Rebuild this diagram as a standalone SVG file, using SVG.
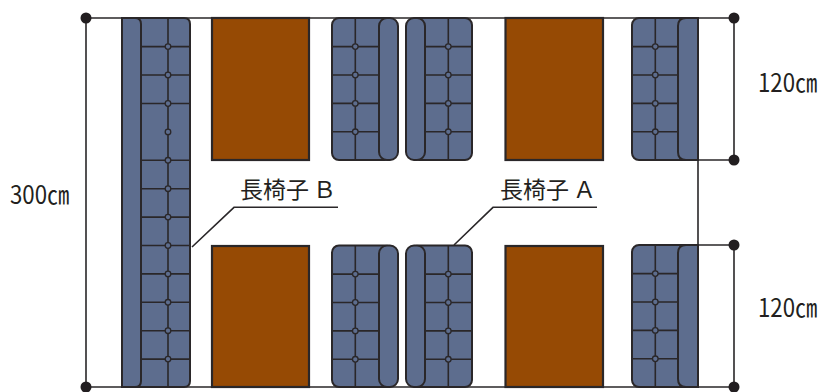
<svg xmlns="http://www.w3.org/2000/svg" width="819" height="392" viewBox="0 0 819 392">
<defs>
<style>
.s{fill:#5d6d8e;stroke:#2a2729;stroke-width:2}
.t{fill:#964a04;stroke:#2a2729;stroke-width:2.2}
.l{fill:none;stroke:#2a2729;stroke-width:1.6}
.d{fill:#221e20}
.b{fill:#5d6d8e;stroke:#2a2729;stroke-width:1.3}
text{font-family:"Noto Sans CJK JP","Liberation Sans",sans-serif;fill:#231f20}
.lb{font-size:23px;font-weight:400}
.dm{font-size:25px;font-weight:400}
</style>
<g id="quad">
<path class="l" d="M0 28.6H47M0 57H47M0 85.4H47M0 113.8H47"/>
<path class="l" d="M23.3 0V142"/>
<circle class="b" cx="23.3" cy="28.6" r="2.8"/><circle class="b" cx="23.3" cy="57" r="2.8"/><circle class="b" cx="23.3" cy="85.4" r="2.8"/><circle class="b" cx="23.3" cy="113.8" r="2.8"/>
</g>
</defs>
<g id="connectors">
<path class="l" d="M86 18H734V160H698M86 18V387H734V245H698M698 18V387"/>
<path class="l" d="M192 247L234 207.3H338M454 245L493 207.3H597"/>
</g>
<g id="table-1"><rect class="t" x="212" y="18" width="97" height="142"/></g>
<g id="table-2"><rect class="t" x="505.500" y="18" width="97.500" height="142"/></g>
<g id="table-3"><rect class="t" x="212" y="246" width="97" height="141"/></g>
<g id="table-4"><rect class="t" x="505.500" y="246" width="97.500" height="141"/></g>
<g id="bench-b">
<path class="s" d="M122 18H184Q190 18 190 24V381Q190 387 184 387H122Z" />
<path class="s" d="M122 18H135Q141 18 141 24V381Q141 387 135 387H122Z"/>
<path class="l" d="M141 46.600H190M141 75H190M141 103.500H190M141 160.300H190M141 188.700H190M141 217.100H190M141 245.500H190M141 273.900H190M141 302.300H190M141 330.700H190M141 359.100H190M168 18V387"/>
<g><circle class="b" cx="168" cy="46.600" r="2.800"/><circle class="b" cx="168" cy="75" r="2.800"/><circle class="b" cx="168" cy="103.500" r="2.800"/><circle class="b" cx="168" cy="131.900" r="2.800"/><circle class="b" cx="168" cy="160.300" r="2.800"/><circle class="b" cx="168" cy="188.700" r="2.800"/><circle class="b" cx="168" cy="217.100" r="2.800"/><circle class="b" cx="168" cy="245.500" r="2.800"/><circle class="b" cx="168" cy="273.900" r="2.800"/><circle class="b" cx="168" cy="302.300" r="2.800"/><circle class="b" cx="168" cy="330.700" r="2.800"/><circle class="b" cx="168" cy="359.100" r="2.800"/></g>
</g>
<g id="bench-a1">
<rect class="s" x="332" y="18" width="60" height="142" rx="7"/>
<use href="#quad" x="332" y="18"/>
<rect class="s" x="379" y="18" width="19" height="142" rx="8"/>
</g>
<g id="bench-a2">
<rect class="s" x="412" y="18" width="60" height="142" rx="7"/>
<use href="#quad" x="425" y="18"/>
<rect class="s" x="406" y="18" width="19" height="142" rx="8"/>
</g>
<g id="bench-a3">
<rect class="s" x="632" y="18" width="66" height="142" rx="7"/>
<use href="#quad" x="632" y="18"/>
<path class="s" d="M698 18H686Q678 18 678 26V152Q678 160 686 160H698Z"/>
</g>
<g id="bench-a4">
<rect class="s" x="332" y="245.500" width="60" height="141.500" rx="7"/>
<use href="#quad" x="332" y="245.500"/>
<rect class="s" x="379" y="245.500" width="19" height="141.500" rx="8"/>
</g>
<g id="bench-a5">
<rect class="s" x="412" y="245.500" width="60" height="141.500" rx="7"/>
<use href="#quad" x="425" y="245.500"/>
<rect class="s" x="406" y="245.500" width="19" height="141.500" rx="8"/>
</g>
<g id="bench-a6">
<rect class="s" x="632" y="245" width="66" height="142" rx="7"/>
<use href="#quad" x="632" y="245"/>
<path class="s" d="M698 245H686Q678 245 678 253V379Q678 387 686 387H698Z"/>
</g>
<g id="dim-dots">
<circle class="d" cx="86" cy="18" r="5.500"/><circle class="d" cx="86" cy="387" r="5.500"/><circle class="d" cx="734" cy="18" r="5.500"/><circle class="d" cx="734" cy="160" r="5.500"/><circle class="d" cx="734" cy="245" r="5.500"/><circle class="d" cx="734" cy="387" r="5.500"/>
</g>
<g id="labels">
<text class="lb" x="240 263 286 313" y="198">長椅子Ｂ</text>
<text class="lb" x="500 523 546 573" y="198">長椅子Ａ</text>
<text class="dm" transform="translate(10 204) scale(.89 1)">300㎝</text>
<text class="dm" transform="translate(758 92) scale(.89 1)">120㎝</text>
<text class="dm" transform="translate(758 317) scale(.89 1)">120㎝</text>
</g>
</svg>
